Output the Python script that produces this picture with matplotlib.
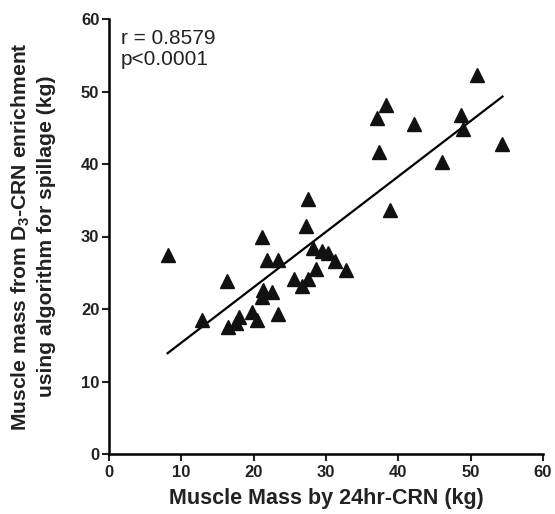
import matplotlib
matplotlib.use("Agg")
import matplotlib.pyplot as plt
import numpy as np

plt.rcParams['font.family'] = ['Liberation Sans', 'DejaVu Sans']
plt.rcParams['mathtext.fontset'] = 'custom'
plt.rcParams['mathtext.rm'] = 'Liberation Sans'
plt.rcParams['mathtext.bf'] = 'Liberation Sans:bold'

x_24hr = [8.1, 12.8, 16.25, 16.4, 17.5, 18.0, 19.8, 20.4, 21.2, 21.3, 21.1, 22.6,
          21.9, 23.4, 23.4, 25.6, 26.7, 27.5, 28.6, 27.3, 27.5, 28.2, 29.4, 30.3,
          31.2, 32.7, 37.1, 38.3, 37.3, 38.8, 42.2, 46.0, 48.7, 48.9, 50.9, 54.4]
y_d3 = [27.4, 18.5, 23.8, 17.5, 18.1, 18.9, 19.6, 18.5, 30.0, 22.6, 21.7, 22.4,
        26.7, 26.7, 19.3, 24.1, 23.2, 24.2, 25.5, 31.4, 35.2, 28.4, 28.0, 27.7,
        26.6, 25.4, 46.3, 48.2, 41.6, 33.7, 45.5, 40.3, 46.8, 44.8, 52.3, 42.7]
fit_x = [8.1, 54.4]
fit_y = [13.9, 49.3]
stats_text = "r = 0.8579\np<0.0001"
x_ticks = [0, 10, 20, 30, 40, 50, 60]
y_ticks = [0, 10, 20, 30, 40, 50, 60]

fig = plt.figure(figsize=(5.55, 5.14), dpi=100)
ax = fig.add_axes([109/555, 1 - 454/514, (543-109)/555, (454-19)/514])

ax.plot(fit_x, fit_y, color='black', lw=1.6, zorder=2)
ax.plot(x_24hr, y_d3, linestyle='none', marker='^', markersize=9.5,
        color='#111111', zorder=3, clip_on=False)

ax.set_xlim(0, 60)
ax.set_ylim(0, 60)
ax.set_xticks(x_ticks)
ax.set_yticks(y_ticks)
for s in ['top', 'right']:
    ax.spines[s].set_visible(False)
for s in ['left', 'bottom']:
    ax.spines[s].set_linewidth(1.8)
ax.tick_params(direction='out', length=5, width=1.5, labelsize=12, pad=2,
               colors='#222222')
ax.tick_params(axis='x', pad=3)
for lab in ax.get_xticklabels() + ax.get_yticklabels():
    lab.set_fontweight('bold')

ax.set_xlabel('Muscle Mass by 24hr-CRN (kg)', fontsize=15.5, fontweight='bold',
              labelpad=6, color='#222222')
ax.set_ylabel('Muscle mass from $\\mathbf{D_3}$-CRN enrichment\nusing algorithm for spillage (kg)',
              fontsize=15.2, fontweight='bold', labelpad=18, linespacing=1.3,
              color='#222222')

ax.text(0.028, 0.977, stats_text, transform=ax.transAxes, fontsize=15,
        va='top', ha='left', linespacing=1.1, color='#222222')

fig.savefig('out.png', dpi=100)
